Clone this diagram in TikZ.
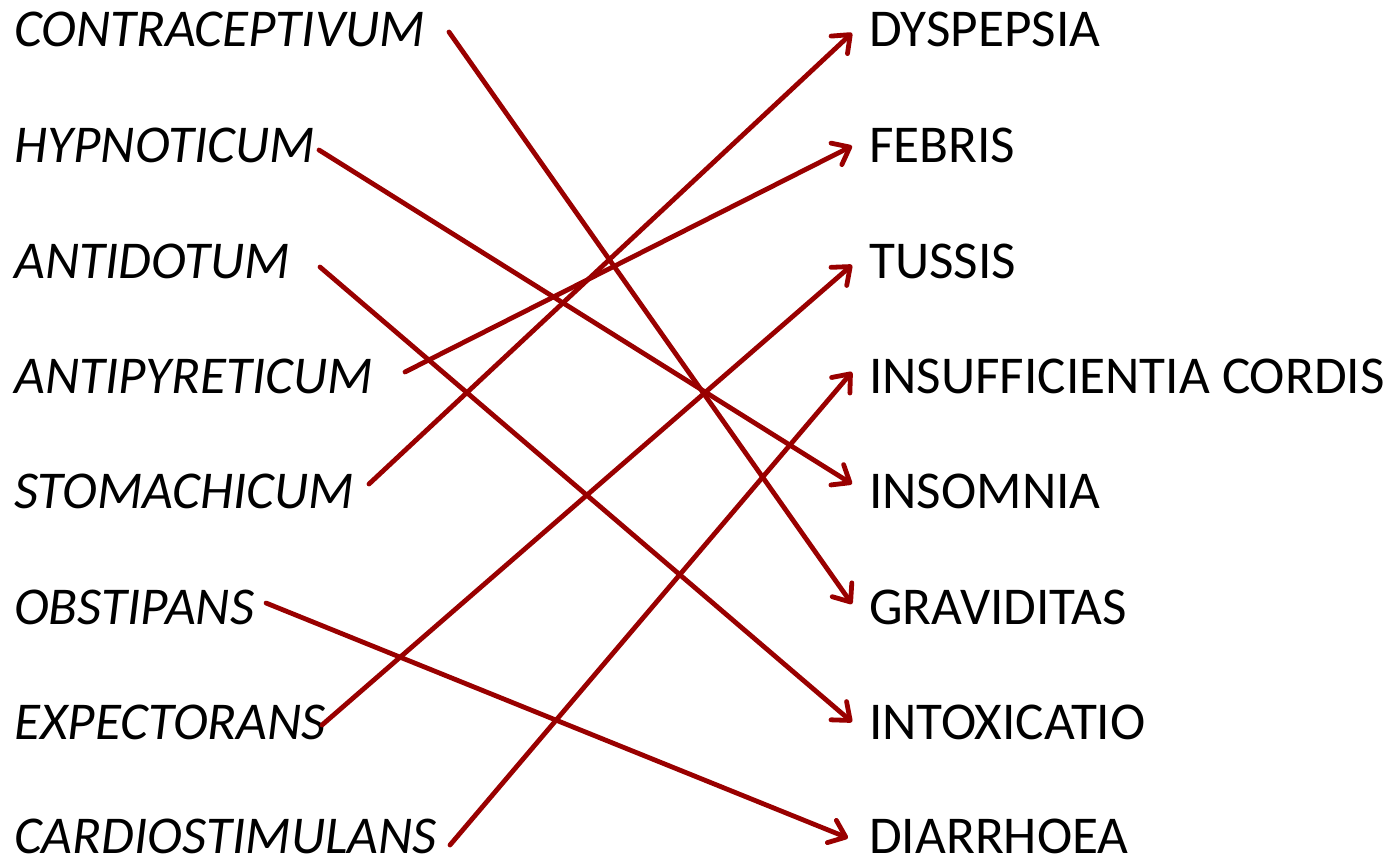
\documentclass[tikz,border=0pt]{standalone}
\usepackage{fontspec}
\setmainfont{Carlito}
\usetikzlibrary{arrows.meta}
\definecolor{arrowred}{RGB}{153,0,0}
\tikzset{
  lbl/.style={anchor=base west, inner sep=0pt, font=\fontsize{53.2}{60}\selectfont},
  drug/.style={lbl, font=\fontsize{53.2}{60}\selectfont\itshape},
  link/.style={draw=arrowred, line width=4.8pt, line cap=round, line join=round,
    -{Straight Barb[length=15pt,width=24pt,line cap=round,line join=round]}}
}
\begin{document}
\begin{tikzpicture}[x=1pt,y=-1pt]
\useasboundingbox (0,0) rectangle (1388,859);
% left column
\node[drug] (contra) at (14,47) {CONTRACEPTIVUM};
\node[drug] (hypno) at (14,162) {HYPNOTICUM};
\node[drug] (antid) at (14,278) {ANTIDOTUM};
\node[drug] (antip) at (14,393) {ANTIPYRETICUM};
\node[drug] (stom) at (14,508) {STOMACHICUM};
\node[drug] (obst) at (14,624) {OBSTIPANS};
\node[drug] (expe) at (14,739) {EXPECTORANS};
\node[drug] (cardio) at (14,853) {CARDIOSTIMULANS};
% right column
\node[lbl] (dysp) at (869,47) {DYSPEPSIA};
\node[lbl] (febr) at (869,162) {FEBRIS};
\node[lbl] (tuss) at (869,278) {TUSSIS};
\node[lbl] (insuf) at (869,393) {INSUFFICIENTIA CORDIS};
\node[lbl] (insom) at (869,508) {INSOMNIA};
\node[lbl] (grav) at (869,624) {GRAVIDITAS};
\node[lbl] (intox) at (869,739) {INTOXICATIO};
\node[lbl] (diar) at (869,853) {DIARRHOEA};
% connectors
\draw[link] ([shift={(435,-15)}]contra.base west) -- ([shift={(-17,-20)}]grav.base west);
\draw[link] ([shift={(305,-12)}]hypno.base west) -- ([shift={(-17,-24)}]insom.base west);
\draw[link] ([shift={(306,-11)}]antid.base west) -- ([shift={(-17,-17)}]intox.base west);
\draw[link] ([shift={(391,-21)}]antip.base west) -- ([shift={(-17,-16)}]febr.base west);
\draw[link] ([shift={(355,-24)}]stom.base west) -- ([shift={(-17,-14)}]dysp.base west);
\draw[link] ([shift={(252,-21)}]obst.base west) -- ([shift={(-21,-15)}]diar.base west);
\draw[link] ([shift={(308,-14)}]expe.base west) -- ([shift={(-17,-13)}]tuss.base west);
\draw[link] ([shift={(436,-8)}]cardio.base west) -- ([shift={(-17,-21)}]insuf.base west);
\end{tikzpicture}
\end{document}
